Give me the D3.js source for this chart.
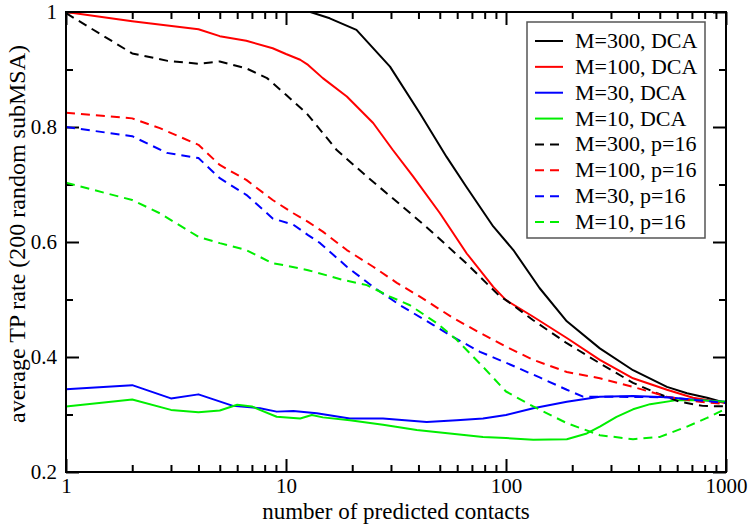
<!DOCTYPE html>
<html>
<head>
<meta charset="utf-8">
<script src="https://cdn.jsdelivr.net/npm/d3@7"></script>
<style>
  html, body { margin: 0; padding: 0; background: #fff; }
  svg { display: block; }
  text { font-family: "Liberation Serif", Tinos, "Times New Roman", Times, serif; fill: #000; }
</style>
</head>
<body>
<svg id="chart" width="752" height="528"></svg>
<script>
// ---------- data ----------
const m300DCA = [[1,1.0],[5,1.0],[10,1.0],[12.9,1.0],[15.8,0.989],[20.9,0.969],[29.7,0.905],[40.6,0.824],[53.7,0.748],[66,0.696],[87.5,0.627],[108,0.586],[142,0.52],[189,0.462],[267,0.415],[378,0.377],[539,0.348],[665,0.337],[820,0.329],[1000,0.320]];
const m100DCA = [[1,1.0],[2,0.984],[4,0.970],[5,0.958],[6.6,0.950],[8.7,0.937],[10,0.927],[11.6,0.917],[12.6,0.908],[14.7,0.885],[18.9,0.853],[24.9,0.807],[30.6,0.760],[37.8,0.714],[50.1,0.650],[66.3,0.580],[87.5,0.522],[100,0.499],[133,0.470],[189,0.433],[267,0.395],[378,0.363],[539,0.343],[708,0.329],[1000,0.320]];
const m30DCA = [[1,0.344],[2,0.351],[3,0.328],[4,0.335],[5.74,0.315],[7.62,0.311],[9.07,0.305],[10.8,0.306],[13.8,0.302],[19.5,0.293],[27.6,0.293],[43.6,0.287],[59.7,0.290],[78.6,0.293],[100,0.299],[133,0.311],[189,0.322],[267,0.331],[378,0.332],[539,0.330],[762,0.325],[1000,0.322]];
const m10DCA = [[1,0.314],[2,0.326],[3,0.308],[4,0.304],[5,0.307],[6,0.317],[7,0.314],[7.6,0.308],[9.07,0.296],[11.6,0.293],[13.1,0.299],[14.7,0.295],[19.5,0.290],[27.6,0.282],[39.3,0.273],[55.6,0.267],[78.6,0.261],[100,0.259],[133,0.256],[189,0.257],[233,0.267],[267,0.279],[318,0.296],[378,0.309],[452,0.318],[597,0.325],[762,0.325],[1000,0.322]];
const m300P16 = [[1,0.998],[2,0.928],[2.9,0.915],[4,0.910],[5,0.914],[6.6,0.902],[8.2,0.885],[10,0.856],[12.4,0.824],[17,0.760],[23.3,0.714],[34,0.661],[45,0.621],[66,0.563],[94,0.505],[100,0.499],[133,0.464],[189,0.424],[267,0.389],[378,0.355],[486,0.337],[618,0.322],[785,0.315],[1000,0.314]];
const m100P16 = [[1,0.825],[2,0.815],[2.67,0.798],[4,0.769],[5,0.734],[6.6,0.708],[8.7,0.673],[10.8,0.650],[12.6,0.635],[14.7,0.618],[18.9,0.586],[24.9,0.557],[31.9,0.529],[40.6,0.505],[57.4,0.468],[76.2,0.442],[100,0.418],[133,0.395],[189,0.374],[267,0.363],[378,0.348],[539,0.331],[762,0.322],[1000,0.318]];
const m30P16 = [[1,0.800],[2,0.784],[2.87,0.755],[4,0.746],[5,0.711],[6.6,0.682],[8.7,0.641],[10.8,0.630],[12.6,0.612],[14.3,0.598],[18.9,0.557],[24.9,0.522],[33,0.490],[46.6,0.456],[57.4,0.435],[76.2,0.409],[100,0.390],[143,0.364],[189,0.343],[224,0.331],[267,0.331],[539,0.330],[1000,0.320]];
const m10P16 = [[1,0.703],[2,0.673],[2.67,0.650],[4,0.609],[5,0.598],[6.6,0.586],[8.7,0.563],[9.7,0.560],[12.6,0.551],[18.2,0.534],[23.3,0.525],[29.7,0.505],[36.6,0.490],[48.4,0.459],[59.7,0.430],[78.6,0.383],[100,0.340],[133,0.314],[189,0.285],[267,0.264],[378,0.257],[501,0.261],[665,0.279],[820,0.294],[1000,0.310]];

const seriesNames = ["M=300, DCA","M=100, DCA","M=30, DCA","M=10, DCA","M=300, p=16","M=100, p=16","M=30, p=16","M=10, p=16"];
const seriesData = [m300DCA, m100DCA, m30DCA, m10DCA, m300P16, m100P16, m30P16, m10P16];
const seriesColors = ["#000000","#ff0000","#0000ff","#00ee00","#000000","#ff0000","#0000ff","#00ee00"];
const seriesDashed = [false,false,false,false,true,true,true,true];

const xMajorTicks = [1,10,100,1000];
const xMinorTicks = [2,3,4,5,6,7,8,9,20,30,40,50,60,70,80,90,200,300,400,500,600,700,800,900];
const yMajorTicks = [0.2,0.4,0.6,0.8,1.0];
const yMinorTicks = [0.3,0.5,0.7,0.9];
const xTitle = "number of predicted contacts";
const yTitle = "average TP rate (200 random subMSA)";

// ---------- layout ----------
const L = 66, R = 726, T = 12, B = 472;
const svg = d3.select("#chart");
const x = d3.scaleLog().domain([1,1000]).range([L,R]);
const y = d3.scaleLinear().domain([0.2,1]).range([B,T]);
const FONT = '"Liberation Serif", Tinos, "Times New Roman", Times, serif';

function fmtY(v){ return v === 1 ? "1" : d3.format(".1f")(v); }

function styleAxis(g){
  g.select(".domain").remove();
  g.selectAll(".tick line").attr("stroke","#000").attr("stroke-width",2);
  g.selectAll(".tick text").style("font-family",FONT).style("font-size","21px").attr("fill","#000");
}

// bottom major (with labels)
svg.append("g").attr("transform",`translate(0,${B})`)
  .call(d3.axisBottom(x).tickValues(xMajorTicks).tickSize(-13).tickPadding(6).tickFormat(d3.format("d")))
  .call(styleAxis);
svg.append("g").attr("transform",`translate(0,${B})`)
  .call(d3.axisBottom(x).tickValues(xMinorTicks).tickSize(-7).tickFormat(""))
  .call(styleAxis);
// top
svg.append("g").attr("transform",`translate(0,${T})`)
  .call(d3.axisTop(x).tickValues(xMajorTicks).tickSize(-13).tickFormat(""))
  .call(styleAxis);
svg.append("g").attr("transform",`translate(0,${T})`)
  .call(d3.axisTop(x).tickValues(xMinorTicks).tickSize(-7).tickFormat(""))
  .call(styleAxis);
// left
svg.append("g").attr("transform",`translate(${L},0)`)
  .call(d3.axisLeft(y).tickValues(yMajorTicks).tickSize(-13).tickPadding(9).tickFormat(fmtY))
  .call(styleAxis);
svg.append("g").attr("transform",`translate(${L},0)`)
  .call(d3.axisLeft(y).tickValues(yMinorTicks).tickSize(-7).tickFormat(""))
  .call(styleAxis);
// right
svg.append("g").attr("transform",`translate(${R},0)`)
  .call(d3.axisRight(y).tickValues(yMajorTicks).tickSize(-13).tickFormat(""))
  .call(styleAxis);
svg.append("g").attr("transform",`translate(${R},0)`)
  .call(d3.axisRight(y).tickValues(yMinorTicks).tickSize(-7).tickFormat(""))
  .call(styleAxis);

// curves
svg.append("clipPath").attr("id","plotclip").append("rect")
  .attr("x",L).attr("y",T-2).attr("width",R-L).attr("height",B-T+2);
const line = d3.line().x(d=>x(d[0])).y(d=>y(d[1]));
const gLines = svg.append("g").attr("clip-path","url(#plotclip)");
seriesData.forEach((data,i)=>{
  gLines.append("path").datum(data)
    .attr("d",line)
    .attr("fill","none")
    .attr("stroke",seriesColors[i])
    .attr("stroke-width",2)
    .attr("stroke-linejoin","round")
    .attr("stroke-dasharray",seriesDashed[i] ? "9,6" : null);
});

// frame
svg.append("rect").attr("x",L).attr("y",T).attr("width",R-L).attr("height",B-T)
  .attr("fill","none").attr("stroke","#000").attr("stroke-width",2);

// axis titles
svg.append("text").attr("x",(L+R)/2).attr("y",519).attr("text-anchor","middle")
  .style("font-family",FONT).style("font-size","23px").text(xTitle);
svg.append("text").attr("transform",`translate(25,${(T+B)/2 - 8}) rotate(-90)`).attr("text-anchor","middle")
  .style("font-family",FONT).style("font-size","24px").text(yTitle);

// legend
const lg = svg.append("g");
lg.append("rect").attr("x",527).attr("y",22).attr("width",178).attr("height",216)
  .attr("fill","#fff").attr("stroke","#555").attr("stroke-width",1.5);
const rowY = d3.scalePoint().domain(d3.range(seriesNames.length)).range([41,222]);
seriesNames.forEach((name,i)=>{
  const yy = rowY(i);
  lg.append("line").attr("x1",535).attr("x2",563).attr("y1",yy).attr("y2",yy)
    .attr("stroke",seriesColors[i]).attr("stroke-width",2)
    .attr("stroke-dasharray",seriesDashed[i] ? "9,6" : null);
  lg.append("text").attr("x",575).attr("y",yy+7).style("font-family",FONT).style("font-size","22px").text(name);
});
</script>
</body>
</html>
